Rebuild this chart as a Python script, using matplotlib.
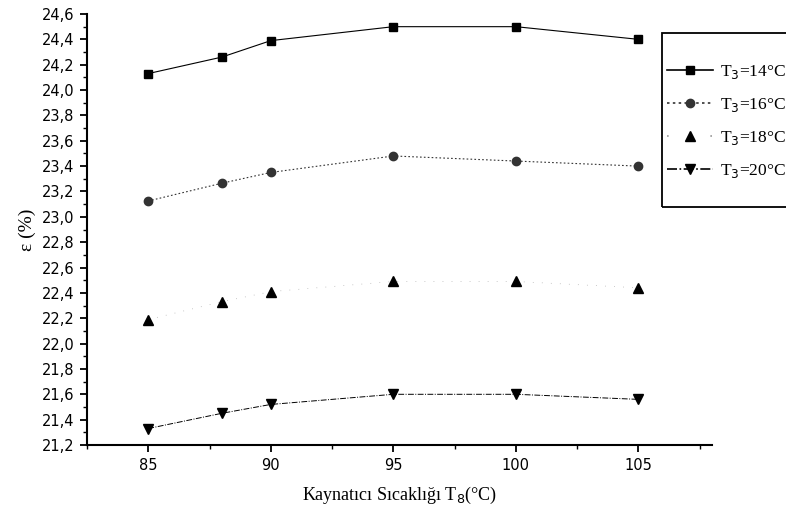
import matplotlib
matplotlib.use("Agg")
import matplotlib.pyplot as plt
from matplotlib.ticker import MultipleLocator, FuncFormatter
from matplotlib.patches import Rectangle

# Boiler temperature (°C) and efficiency values for each T3 series
boiler_temp = [85, 88, 90, 95, 100, 105]
eff_t14 = [24.13, 24.26, 24.39, 24.50, 24.50, 24.40]
eff_t16 = [23.125, 23.265, 23.35, 23.48, 23.44, 23.40]
eff_t18 = [22.19, 22.33, 22.41, 22.49, 22.49, 22.44]
eff_t20 = [21.33, 21.45, 21.52, 21.60, 21.60, 21.56]
series_labels = ["T$_3$=14°C", "T$_3$=16°C", "T$_3$=18°C", "T$_3$=20°C"]

x_ticks = [85, 90, 95, 100, 105]
y_min, y_max = 21.2, 24.6

fig = plt.figure(figsize=(7.86, 5.17), dpi=100)
ax = fig.add_axes([87 / 786, 1 - 445 / 517, 625 / 786, 431 / 517])

sans = "DejaVu Sans"
serif = "Liberation Serif"

ax.plot(boiler_temp, eff_t14, color="black", lw=0.8, ls="-",
        marker="s", ms=5.5, label=series_labels[0])
ax.plot(boiler_temp, eff_t16, color="#333333", lw=0.8, ls=(0, (1.5, 2)),
        marker="o", ms=6, label=series_labels[1])
ax.plot(boiler_temp, eff_t18, color="#999999", lw=0.5, ls=(0, (1, 12)),
        marker="^", ms=6.5, markeredgecolor="black", markerfacecolor="black",
        label=series_labels[2])
ax.plot(boiler_temp, eff_t20, color="black", lw=0.7, ls=(0, (6, 1.5, 1, 1.5)),
        marker="v", ms=6.5, label=series_labels[3])

ax.set_xlim(82.5, 108)
ax.set_ylim(y_min, y_max)
ax.set_xticks(x_ticks)
ax.xaxis.set_minor_locator(MultipleLocator(2.5))
ax.yaxis.set_major_locator(MultipleLocator(0.2))
ax.yaxis.set_minor_locator(MultipleLocator(0.1))
ax.yaxis.set_major_formatter(FuncFormatter(lambda v, p: f"{v:.1f}".replace(".", ",")))

for side in ("top", "right"):
    ax.spines[side].set_visible(False)
for side in ("left", "bottom"):
    ax.spines[side].set_linewidth(1.5)

ax.tick_params(axis="both", which="major", direction="out", length=5, width=1.3,
               labelsize=10.5, pad=4)
ax.tick_params(axis="both", which="minor", direction="out", length=3, width=1.0)
for lbl in ax.get_xticklabels() + ax.get_yticklabels():
    lbl.set_fontfamily(sans)

ax.set_xlabel("Kaynatıcı Sıcaklığı T$_8$(°C)", fontfamily=serif, fontsize=13, labelpad=9)
ax.set_ylabel("ε (%)", fontfamily=serif, fontsize=14, labelpad=4)

# Legend frame extends past the right edge of the figure
fig.patches.append(Rectangle((662 / 786, 1 - 207 / 517), 0.3, 174 / 517,
                             transform=fig.transFigure, fill=False,
                             edgecolor="black", linewidth=1.3, clip_on=False))
leg = fig.legend(loc="upper left", bbox_to_anchor=(664 / 786, 1 - 60 / 517),
                 frameon=False, prop={"family": serif, "size": 12.5},
                 handlelength=2.6, handletextpad=0.4, labelspacing=0.85,
                 borderpad=0.2, borderaxespad=0)
for ln in leg.get_lines():
    ln.set_linewidth(1.2)

fig.savefig("out.png", dpi=100)
